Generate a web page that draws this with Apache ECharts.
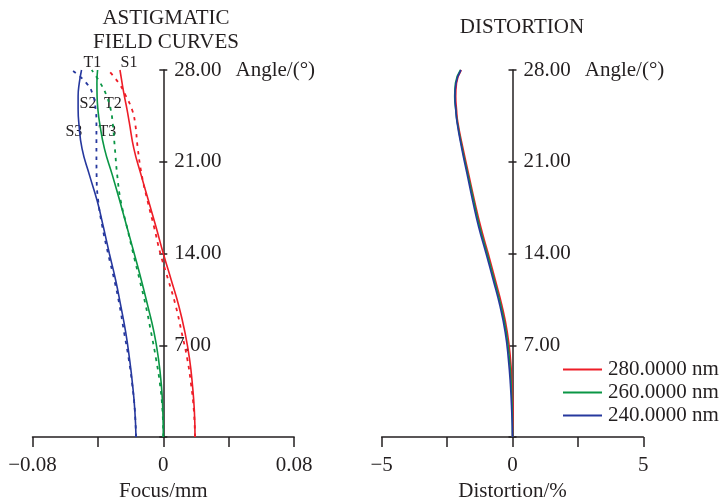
<!DOCTYPE html>
<html>
<head>
<meta charset="utf-8">
<script src="https://cdn.jsdelivr.net/npm/echarts@6/dist/echarts.min.js"></script>
<style>
  html, body { margin: 0; padding: 0; background: #fff; }
  #chart { width: 723px; height: 498px; }
</style>
</head>
<body>
<div id="chart"></div>
<script>
// Field angle samples (degrees) shared by every curve
const angles = [0, 2, 4, 6, 8, 10, 12, 14, 16, 18, 20, 22, 24, 25, 26, 27, 28];

// Astigmatic field curves, focus shift in mm
const red280Solid  = [0.0194, 0.0190, 0.0178, 0.0160, 0.0132, 0.0095, 0.0048, 0.0000, -0.0044, -0.0090, -0.0136, -0.0180, -0.0208, -0.0222, -0.0238, -0.0252, -0.0265];
const red280Dot    = [0.0194, 0.0187, 0.0170, 0.0146, 0.0112, 0.0076, 0.0030, -0.0018, -0.0056, -0.0096, -0.0132, -0.0156, -0.0173, -0.0192, -0.0228, -0.0272, -0.0339];
const green260Solid = [0.0000, -0.0003, -0.0012, -0.0030, -0.0057, -0.0095, -0.0135, -0.0178, -0.0222, -0.0266, -0.0312, -0.0360, -0.0390, -0.0400, -0.0405, -0.0406, -0.0402];
const green260Dot   = [0.0000, -0.0005, -0.0020, -0.0045, -0.0075, -0.0107, -0.0145, -0.0184, -0.0222, -0.0260, -0.0282, -0.0296, -0.0310, -0.0322, -0.0346, -0.0385, -0.0438];
const blue240Solid = [-0.0167, -0.0174, -0.0188, -0.0207, -0.0230, -0.0260, -0.0292, -0.0330, -0.0366, -0.0404, -0.0452, -0.0497, -0.0517, -0.0521, -0.0521, -0.0514, -0.0500];
const blue240Dot   = [-0.0167, -0.0174, -0.0190, -0.0212, -0.0240, -0.0267, -0.0300, -0.0338, -0.0372, -0.0398, -0.0408, -0.0409, -0.0409, -0.0414, -0.0428, -0.0470, -0.0561];

// Distortion in percent
const dist280 = [0, 0.02, -0.02, -0.08, -0.20, -0.40, -0.66, -0.93, -1.21, -1.45, -1.67, -1.89, -2.09, -2.14, -2.17, -2.14, -1.96];
const dist260 = [0, -0.01, -0.05, -0.12, -0.24, -0.44, -0.70, -0.97, -1.25, -1.48, -1.70, -1.92, -2.11, -2.17, -2.21, -2.18, -1.99];
const dist240 = [0, -0.03, -0.08, -0.16, -0.28, -0.48, -0.74, -1.01, -1.29, -1.52, -1.73, -1.94, -2.12, -2.17, -2.20, -2.16, -1.97];

const wavelengths = ['280.0000 nm', '260.0000 nm', '240.0000 nm'];
const focusTicks = [-0.08, 0, 0.08];
const distTicks = [-5, 0, 5];
const angleTicks = [7, 14, 21, 28];

// Curve tags: text, focus (mm), angle (deg)
const curveTags = [
  ['T1', -0.0434, 28.55], ['S1', -0.0210, 28.55],
  ['S2', -0.0461, 25.42], ['T2', -0.0308, 25.42],
  ['S3', -0.0547, 23.28], ['T3', -0.0342, 23.28]
];

const RED = '#ee1d27', GREEN = '#0a9645', BLUE = '#26389e';
const FONT = 'Liberation Serif';
const INK = '#231f20';
const GRID_W = 261.6;

const pairs = (xs) => xs.map((x, i) => [x, angles[i]]);

function fmtTick(ticks, minusLabel) {
  return function (v) {
    for (const t of ticks) {
      if (Math.abs(v - t) < 1e-9) {
        if (t < 0) return minusLabel;
        return String(t);
      }
    }
    return '';
  };
}

function angleLabel(v) {
  if (Math.abs(v - 28) < 1e-9) return '{a|28.00}{b|Angle/(°)}';
  if (angleTicks.some(t => Math.abs(v - t) < 1e-9)) return '{a|' + v.toFixed(2) + '}';
  return '';
}

const axisLine = { onZero: true, lineStyle: { color: INK, width: 1.5 } };

function makeX(gridIndex, min, max, interval, ticks, minusLabel, name) {
  return {
    type: 'value', gridIndex, min, max, interval,
    position: 'bottom',
    axisLine: axisLine,
    axisTick: { show: true, length: 10, lineStyle: { color: INK, width: 1.5 } },
    axisLabel: { formatter: fmtTick(ticks, minusLabel), margin: 18, fontFamily: FONT, fontSize: 21, color: INK },
    splitLine: { show: false },
    name, nameLocation: 'middle', nameGap: 37,
    nameTextStyle: { fontFamily: FONT, fontSize: 21, color: INK }
  };
}

// Angle axis drawn through the middle of the panel (x = 0), with ticks crossing it
function makeY(gridIndex) {
  return [{
    type: 'value', gridIndex, min: 0, max: 28, interval: 7,
    position: 'right', offset: -GRID_W / 2,
    axisLine: { show: true, onZero: false, lineStyle: { color: INK, width: 1.5 } },
    axisTick: { show: true, length: 4, lineStyle: { color: INK, width: 1.5 } },
    axisLabel: {
      formatter: angleLabel, margin: 11, color: INK,
      rich: {
        a: { fontFamily: FONT, fontSize: 21, color: INK },
        b: { fontFamily: FONT, fontSize: 21, color: INK, padding: [0, 0, 0, 14] }
      }
    },
    splitLine: { show: false }
  }, {
    type: 'value', gridIndex, min: 0, max: 28, interval: 7,
    position: 'left', offset: -GRID_W / 2,
    axisLine: { show: false, onZero: false },
    axisTick: { show: true, length: 4, lineStyle: { color: INK, width: 1.5 } },
    axisLabel: { show: false },
    splitLine: { show: false }
  }];
}

function curve(name, data, color, dotted, xi, yi) {
  return {
    type: 'line', name, data: pairs(data),
    xAxisIndex: xi, yAxisIndex: yi,
    showSymbol: false, symbol: 'none', smooth: 0.5, clip: false,
    lineStyle: dotted
      ? { color, width: 1.8, type: [3.5, 5] }
      : { color, width: 1.6 },
    itemStyle: { color },
    emphasis: { disabled: true },
    silent: true
  };
}

const chart = echarts.init(document.getElementById('chart'), null, { renderer: 'canvas' });

const option = {
  animation: false,
  backgroundColor: '#fff',
  textStyle: { fontFamily: FONT },
  title: [
    { text: 'ASTIGMATIC\nFIELD CURVES', left: 166, top: 7, textAlign: 'center', padding: 0,
      textStyle: { fontFamily: FONT, fontSize: 21, lineHeight: 23.5, fontWeight: 'normal', color: INK } },
    { text: 'DISTORTION', left: 522, top: 17, textAlign: 'center', padding: 0,
      textStyle: { fontFamily: FONT, fontSize: 21, fontWeight: 'normal', color: INK } }
  ],
  grid: [
    { left: 32.5, top: 70, width: GRID_W, height: 367, outerBoundsMode: 'none', containLabel: false },
    { left: 381.7, top: 70, width: GRID_W, height: 367, outerBoundsMode: 'none', containLabel: false }
  ],
  xAxis: [
    makeX(0, -0.08, 0.08, 0.04, focusTicks, '\u22120.08', 'Focus/mm'),
    makeX(1, -5, 5, 2.5, distTicks, '\u22125', 'Distortion/%')
  ],
  yAxis: makeY(0).concat(makeY(1)),
  legend: {
    data: wavelengths.map(n => ({ name: n, icon: 'rect' })),
    orient: 'vertical',
    left: 563, top: 359,
    itemWidth: 39, itemHeight: 2, itemGap: 2, padding: 0,
    selectedMode: false,
    textStyle: { fontFamily: FONT, fontSize: 21, color: INK, lineHeight: 21, padding: [0, 0, 0, 1] }
  },
  series: [
    curve('S 280', red280Solid, RED, false, 0, 0),
    curve('T 280', red280Dot, RED, true, 0, 0),
    curve('S 260', green260Solid, GREEN, false, 0, 0),
    curve('T 260', green260Dot, GREEN, true, 0, 0),
    curve('S 240', blue240Solid, BLUE, false, 0, 0),
    curve('T 240', blue240Dot, BLUE, true, 0, 0),
    curve(wavelengths[0], dist280, RED, false, 1, 2),
    curve(wavelengths[1], dist260, GREEN, false, 1, 2),
    curve(wavelengths[2], dist240, BLUE, false, 1, 2)
  ]
};

chart.setOption(option);

// Curve tags placed in data space of the focus panel
chart.setOption({
  graphic: curveTags.map(([txt, fx, ang]) => {
    const p = chart.convertToPixel({ xAxisIndex: 0, yAxisIndex: 0 }, [fx, ang]);
    return {
      type: 'text', x: p[0], y: p[1], silent: true,
      style: { text: txt, fontFamily: FONT, fontSize: 16, fill: INK, align: 'center', verticalAlign: 'middle' }
    };
  })
});
</script>
</body>
</html>
